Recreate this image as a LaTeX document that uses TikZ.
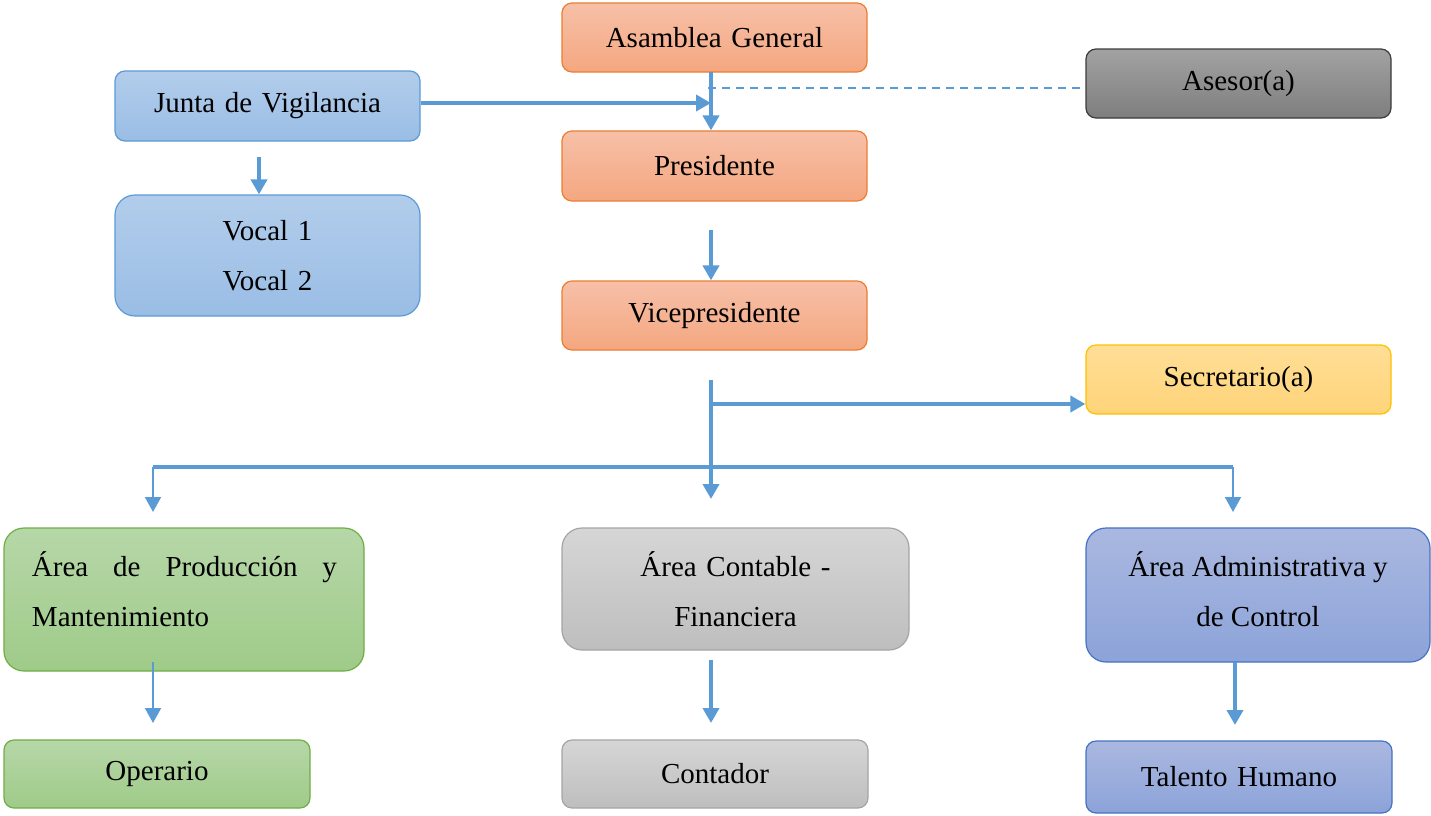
\documentclass[tikz,border=0pt]{standalone}
\usepackage{fontspec}
\setmainfont{Liberation Serif}
\usetikzlibrary{arrows.meta}

\definecolor{orgT}{RGB}{247,192,168}
\definecolor{orgB}{RGB}{244,167,128}
\definecolor{orgD}{RGB}{237,125,49}
\definecolor{bluT}{RGB}{178,205,235}
\definecolor{bluB}{RGB}{154,189,229}
\definecolor{bluD}{RGB}{91,155,213}
\definecolor{gryT}{RGB}{162,162,162}
\definecolor{gryB}{RGB}{126,126,126}
\definecolor{gryD}{RGB}{60,60,60}
\definecolor{ylwT}{RGB}{255,222,150}
\definecolor{ylwB}{RGB}{255,212,122}
\definecolor{ylwD}{RGB}{255,192,0}
\definecolor{grnT}{RGB}{182,215,168}
\definecolor{grnB}{RGB}{159,203,137}
\definecolor{grnD}{RGB}{112,173,71}
\definecolor{lgrT}{RGB}{214,214,214}
\definecolor{lgrB}{RGB}{190,190,190}
\definecolor{lgrD}{RGB}{165,165,165}
\definecolor{pplT}{RGB}{170,184,224}
\definecolor{pplB}{RGB}{140,163,217}
\definecolor{pplD}{RGB}{68,114,196}
\definecolor{link}{RGB}{91,155,213}

\tikzset{
  box/.style n args={3}{draw=#3, line width=0.6pt, top color=#1, bottom color=#2,
    rounded corners=5pt, inner sep=0pt, align=center, text width=150pt},
  orgbox/.style={box={orgT}{orgB}{orgD}},
  blubox/.style={box={bluT}{bluB}{bluD}},
  grybox/.style={box={gryT}{gryB}{gryD}},
  ylwbox/.style={box={ylwT}{ylwB}{ylwD}},
  grnbox/.style={box={grnT}{grnB}{grnD}},
  lgrbox/.style={box={lgrT}{lgrB}{lgrD}},
  pplbox/.style={box={pplT}{pplB}{pplD}},
  bigbox/.style={rounded corners=10pt},
  txt/.style={inner sep=0pt, align=center},
  tip/.style={-{Triangle[length=7.5pt,width=8pt]}},
  heavy/.style={tip, draw=link, line width=2pt},
  light/.style={tip, draw=link, line width=1pt},
  bus/.style={draw=link, line width=2pt},
}

\begin{document}
\begin{tikzpicture}[x=0.5pt,y=-0.5pt,font=\fontsize{14.5}{25}\selectfont]
\useasboundingbox (0,0) rectangle (1431,815);

% top column
\node[orgbox, minimum width=152.5pt, minimum height=34.5pt] (asam) at (714.5,37.5) {Asamblea General};
\node[orgbox, minimum width=152.5pt, minimum height=35pt] (pres) at (714.5,166) {Presidente};
\node[orgbox, minimum width=152.5pt, minimum height=34.5pt] (vice) at (714.5,315.5) {Vicepresidente};

% side boxes
\node[grybox, minimum width=152.5pt, minimum height=34.5pt] (asesor) at (1238.5,83.5) {Asesor(a)};
\node[blubox, minimum width=152.5pt, minimum height=35pt] (junta) at (267.5,106) {Junta de Vigilancia};
\node[blubox, bigbox, minimum width=152.5pt, minimum height=60.5pt] (vocal) at (267.5,255.5) {Vocal 1\\Vocal 2};
\node[ylwbox, minimum width=152.5pt, minimum height=34.5pt] (secr) at (1238.5,379.5) {Secretario(a)};

% areas
\node[grnbox, bigbox, minimum width=180pt, minimum height=71.5pt] (prod) at (184,599.5) {};
\node[txt, text width=152.5pt, align=left] (prodtxt) at (184.5,589)
  {\hbox to 152.5pt{Área\hfill de\hfill Producción\hfill y}\\Mantenimiento};
\node[lgrbox, bigbox, minimum width=173.5pt, minimum height=61pt] (cont) at (735.5,589) {Área Contable -\\Financiera};
\node[pplbox, bigbox, minimum width=172pt, minimum height=67pt] (admin) at (1258,595) {};
\node[txt] (admintxt) at (1258,589) {Área Administrativa y\\de Control};

% bottom row
\node[grnbox, minimum width=153pt, minimum height=34pt] (oper) at (157,774) {Operario};
\node[lgrbox, minimum width=153pt, minimum height=34pt] (conta) at (715,774) {Contador};
\node[pplbox, minimum width=153pt, minimum height=36pt] (talento) at (1239,777) {Talento Humano};

% connector anchor points
\coordinate (a1) at (711,72);
\coordinate (jv) at (711,103);
\coordinate (ds) at (708,88);
\coordinate (jvtop) at (259,157);
\coordinate (pv) at (711,230);
\coordinate (vs) at (711,380);
\coordinate (vt) at (711,499);
\coordinate (sj) at (711,404);
\coordinate (bl) at (153,467);
\coordinate (br) at (1233,467);
\coordinate (blt) at (153,512);
\coordinate (brt) at (1233,512);
\coordinate (po) at (153,662);
\coordinate (pot) at (153,723);
\coordinate (cc) at (711,660);
\coordinate (cct) at (711,723);
\coordinate (at) at (1235,662);
\coordinate (att) at (1235,725);

% connectors
\draw[heavy] (a1) -- (a1 |- pres.north);
\draw[heavy] (junta.east |- jv) -- (jv);
\draw[draw=link, line width=0.9pt, dash pattern=on 4pt off 3pt] (ds) -- (asesor.west |- ds);
\draw[heavy] (jvtop) -- (jvtop |- vocal.north);
\draw[heavy] (pv) -- (pv |- vice.north);
\draw[heavy] (vs) -- (vt);
\draw[heavy] (sj) -- (sj -| secr.west);
\draw[bus] (bl) -- (br);
\draw[light] (bl) -- (blt);
\draw[light] (br) -- (brt);
\draw[light] (po) -- (pot);
\draw[heavy] (cc) -- (cct);
\draw[heavy] (at) -- (att);
\end{tikzpicture}
\end{document}
